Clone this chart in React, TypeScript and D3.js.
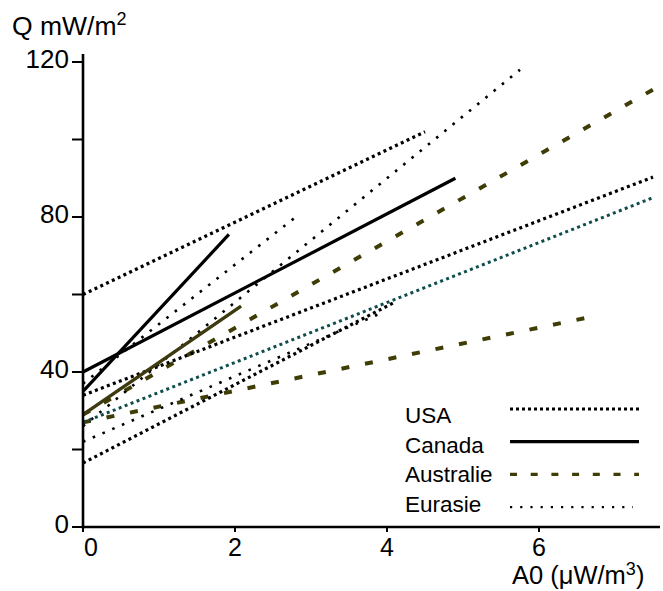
import React from 'react';
import * as d3 from 'd3';

// ---- data ----
const xTicks = [0, 2, 4, 6];
const yTicks = [0, 20, 40, 60, 80, 100, 120];
const yTickLabels = [0, 40, 80, 120];

// each segment: [[A0 start, Q start], [A0 end, Q end]]
const usaLines = [
  [[0, 60], [4.5, 102]],
  [[0, 34], [7.5, 90.3]],
  [[0, 16.5], [4.1, 58]],
];
const canadaLines = [
  [[0, 40], [4.9, 90]],
  [[0, 35], [1.92, 75.5]],
];
const australieDashedLines = [
  [[0, 29], [7.6, 114]],
  [[0, 27], [6.75, 54.5]],
];
const australieSolidLines = [[[0, 29], [2.08, 57]]];
const eurasieLines = [
  [[0, 37], [2.8, 80]],
  [[0, 26], [5.75, 118]],
  [[0, 22], [3.9, 55]],
];
const tealLines = [[[0, 27], [7.5, 85]]];

const legendNames = ['USA', 'Canada', 'Australie', 'Eurasie'];

// ---- styles ----
const OLIVE = '#3f3d05';
const OLIVE_SOLID = '#3d3a10';
const TEAL = '#0f4d4d';
const styles: Record<string, any> = {
  usa: { stroke: '#000', width: 3.2, dash: '3 3.4' },
  canada: { stroke: '#000', width: 3.2, dash: null },
  australie: { stroke: OLIVE, width: 4, dash: '8 16' },
  australieSolid: { stroke: OLIVE_SOLID, width: 3.4, dash: null },
  eurasie: { stroke: '#000', width: 2.6, dash: '2.6 8' },
  teal: { stroke: TEAL, width: 3, dash: '3 3.4' },
};
const legendStyles: Record<string, any> = {
  USA: { stroke: '#000', width: 3, dash: '3 3' },
  Canada: { stroke: '#000', width: 3.2, dash: null },
  Australie: { stroke: OLIVE, width: 3.4, dash: '7 13.7' },
  Eurasie: { stroke: '#000', width: 2.2, dash: '2.2 8' },
};

const W = 663;
const H = 591;
const FONT = 'Liberation Sans, Arial, Helvetica, sans-serif';

export default function App() {
  const x = d3.scaleLinear().domain([0, 7.6]).range([83, 83 + 76 * 7.6]);
  const y = d3.scaleLinear().domain([0, 120]).range([527, 62]);
  const line = d3
    .line<number[]>()
    .x((d) => x(d[0]))
    .y((d) => y(d[1]));

  const groups: [string, number[][][]][] = [
    ['australie', australieDashedLines],
    ['eurasie', eurasieLines],
    ['teal', tealLines],
    ['usa', usaLines],
    ['australieSolid', australieSolidLines],
    ['canada', canadaLines],
  ];

  const legendX0 = 405;
  const lineX0 = 510;
  const lineX1 = 639;
  const legendBaseline0 = 423;
  const legendStep = 29.7;
  const legendLineOffsets = [-14, -11, -8, -5];

  return (
    <svg
      width={W}
      height={H}
      style={{ position: 'absolute', left: 0, top: 0, background: '#fff' }}
      fontFamily={FONT}
    >
      {/* data lines */}
      {groups.map(([key, segs]) =>
        segs.map((s, i) => (
          <path
            key={key + i}
            d={line(s) || ''}
            fill="none"
            stroke={styles[key].stroke}
            strokeWidth={styles[key].width}
            strokeDasharray={styles[key].dash || undefined}
          />
        ))
      )}

      {/* y axis */}
      <line x1={x(0)} x2={x(0)} y1={y(0) + 1.5} y2={y(120) - 8} stroke="#000" strokeWidth={2.6} />
      {yTicks.map((t) => (
        <line key={'yt' + t} x1={x(0) - 11} x2={x(0)} y1={y(t)} y2={y(t)} stroke="#000" strokeWidth={2} />
      ))}
      {yTickLabels.map((t) => (
        <text key={'yl' + t} x={69} y={y(t) + 6} textAnchor="end" fontSize={26} fill="#000">
          {t}
        </text>
      ))}
      <text x={12} y={35} fontSize={26.5} fill="#000">
        Q mW/m<tspan dy={-10} fontSize={18}>2</tspan>
      </text>

      {/* x axis */}
      <line x1={x(0) - 1.3} x2={660} y1={y(0)} y2={y(0)} stroke="#000" strokeWidth={2.6} />
      {xTicks.map((t) => (
        <line key={'xt' + t} x1={x(t)} x2={x(t)} y1={y(0)} y2={y(0) + 5} stroke="#000" strokeWidth={2} />
      ))}
      {xTicks.map((t, i) => (
        <text
          key={'xl' + t}
          x={i === 0 ? x(t) + 1 : x(t)}
          y={556}
          textAnchor={i === 0 ? 'start' : 'middle'}
          fontSize={25}
          fill="#000"
        >
          {t}
        </text>
      ))}
      <text x={512} y={584} fontSize={25.5} fill="#000">
        A0 (μW/m<tspan dy={-9} fontSize={18}>3</tspan>
        <tspan dy={9}>)</tspan>
      </text>

      {/* legend */}
      {legendNames.map((n, i) => {
        const by = legendBaseline0 + i * legendStep;
        const ly = by + legendLineOffsets[i];
        const st = legendStyles[n];
        return (
          <g key={'lg' + n}>
            <text x={legendX0} y={by} fontSize={22.5} fill="#000">
              {n}
            </text>
            <line
              x1={lineX0}
              x2={n === 'Eurasie' ? lineX1 - 6 : lineX1}
              y1={ly}
              y2={ly}
              stroke={st.stroke}
              strokeWidth={st.width}
              strokeDasharray={st.dash || undefined}
            />
          </g>
        );
      })}
    </svg>
  );
}
